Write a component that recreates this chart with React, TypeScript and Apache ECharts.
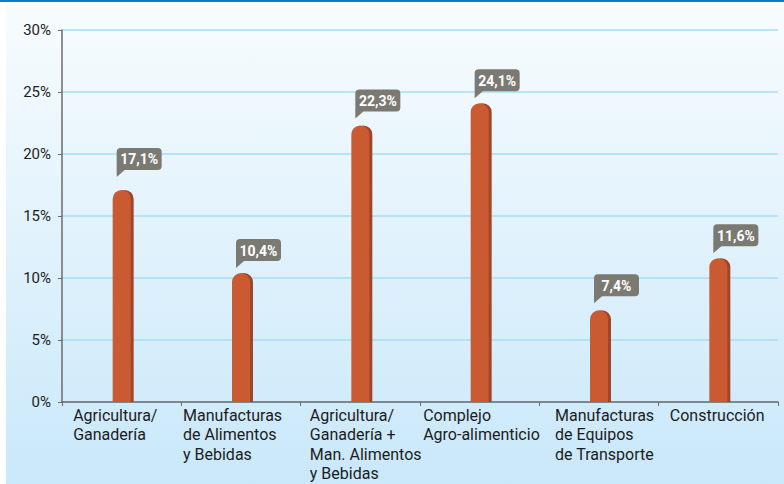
import React, { useEffect, useRef } from "react";
import * as echarts from "echarts";

const categories = [
  "Agricultura/\nGanadería",
  "Manufacturas\nde Alimentos\ny Bebidas",
  "Agricultura/\nGanadería +\nMan. Alimentos\ny Bebidas",
  "Complejo\nAgro-alimenticio",
  "Manufacturas\nde Equipos\nde Transporte",
  "Construcción",
];
const values = [17.1, 10.4, 22.3, 24.1, 7.4, 11.6];
const yTicks = [0, 5, 10, 15, 20, 25, 30];

// styling: label block widths (left-aligned lines within a centered block)
const labelBlockWidths = [97, 116, 101, 113, 88, 97];
const bubbleLift = [8, 0, 2, 0, 2, 0];

export default function App() {
  const ref = useRef<HTMLDivElement>(null);
  useEffect(() => {
    if (!ref.current) return;
    const chart = echarts.init(ref.current, null, { renderer: "svg" });
    const rich: Record<string, any> = {};
    labelBlockWidths.forEach((w, i) => {
      rich["c" + i] = {
        width: w,
        align: "left",
        fontSize: 16,
        lineHeight: 19.3,
        color: "#1c1c1c",
        fontFamily: "Roboto",
      };
    });
    chart.setOption({
      animation: false,
      grid: { left: 62, top: 30, width: 716, height: 372 },
      xAxis: {
        type: "category",
        data: categories,
        boundaryGap: true,
        axisLine: { lineStyle: { color: "#6b6b6b", width: 1.5 } },
        axisTick: { show: true, length: 4, lineStyle: { color: "#6b6b6b" } },
        axisLabel: {
          interval: 0,
          margin: 4,
          align: "center",
          formatter: (val: string, idx: number) =>
            val
              .split("\n")
              .map((l) => `{c${idx}|${l}}`)
              .join("\n"),
          rich,
        },
      },
      yAxis: {
        type: "value",
        min: yTicks[0],
        max: yTicks[yTicks.length - 1],
        interval: 5,
        axisLine: { show: true, lineStyle: { color: "#6b6b6b", width: 1.5 } },
        axisTick: { show: true, length: 4, lineStyle: { color: "#6b6b6b" } },
        axisLabel: {
          margin: 11,
          fontSize: 15,
          color: "#1c1c1c",
          fontFamily: "Roboto",
          formatter: (v: number) => `${v}%`,
        },
        splitLine: { lineStyle: { color: "#a6dcf6", width: 1.5 } },
      },
      series: [
        {
          type: "bar",
          data: values,
          barWidth: 18,
          itemStyle: {
            color: "#c95a31",
            borderRadius: [9, 9, 0, 0],
            shadowColor: "#9e452a",
            shadowOffsetX: 3,
            shadowOffsetY: 0,
            shadowBlur: 0,
          },
        },
        {
          type: "custom",
          data: values.map((v, i) => [i, v]),
          z: 5,
          renderItem: (params: any, api: any) => {
            const idx = api.value(0);
            const v = api.value(1);
            const p = api.coord([idx, v]);
            const w = 45;
            const h = 22;
            const left = p[0] - 5;
            const bottom = p[1] - 12 - bubbleLift[idx];
            const top = bottom - h;
            const txt = v.toFixed(1).replace(".", ",") + "%";
            return {
              type: "group",
              children: [
                {
                  type: "rect",
                  shape: { x: left, y: top, width: w, height: h, r: 4 },
                  style: { fill: "#7a7972" },
                },
                {
                  type: "polygon",
                  shape: {
                    points: [
                      [left, bottom - 3],
                      [left, bottom + 7],
                      [left + 8, bottom],
                      [left + 4, bottom - 3],
                    ],
                  },
                  style: { fill: "#7a7972" },
                },
                {
                  type: "text",
                  style: {
                    text: txt,
                    x: left + w / 2,
                    y: top + h / 2 + 0.5,
                    align: "center",
                    verticalAlign: "middle",
                    fill: "#ffffff",
                    fontSize: 14,
                    fontWeight: "bold",
                    fontFamily: "Roboto",
                  },
                },
              ],
            };
          },
        },
      ],
    });
    return () => chart.dispose();
  }, []);
  return (
    <div
      style={{
        position: "fixed",
        left: 0,
        top: 0,
        width: 784,
        height: 484,
        background: "#ffffff",
        overflow: "hidden",
      }}
    >
      <div
        style={{
          position: "absolute",
          left: 0,
          top: 0,
          width: 784,
          height: 2,
          background: "#0a7dc3",
        }}
      />
      <div
        style={{
          position: "absolute",
          left: 6,
          top: 2,
          width: 778,
          height: 482,
          background: "linear-gradient(#f8fcfe, #c9e8fa)",
        }}
      />
      <div
        ref={ref}
        style={{ position: "absolute", left: 0, top: 0, width: 784, height: 484 }}
      />
    </div>
  );
}
